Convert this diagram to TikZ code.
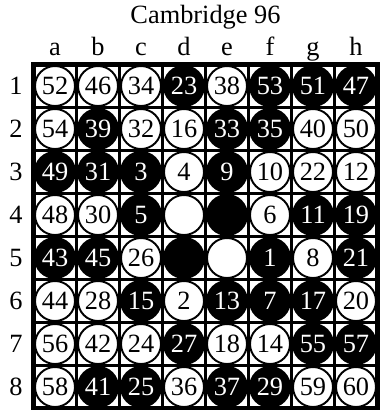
\documentclass[tikz,border=0pt]{standalone}
\usepackage{fontspec}
\setmainfont{Liberation Serif}
\usetikzlibrary{positioning}

\begin{document}
\begin{tikzpicture}[x=0.02cm, y=-0.02cm,
  disk/.style={circle, draw=black, line width=1.1pt, minimum size=0.8cm, inner sep=0pt, font=\fontsize{15}{15}\selectfont},
  wdisk/.style={disk, fill=white, text=black},
  bdisk/.style={disk, fill=black, text=white},
  gridline/.style={line width=1.7pt},
  coord/.style={font=\fontsize{15}{15}\selectfont, inner sep=1pt},
]

% === Canvas ===
\useasboundingbox[fill=white] (0,0) rectangle (380,410);

% === Title and coordinates ===
\node[font=\fontsize{15}{15}\selectfont, inner sep=1pt] (title) at (205.5,17) {Cambridge 96};
\foreach \l [count=\i from 0] in {a,b,c,d,e,f,g,h}
  \node[coord, anchor=base] (col-\l) at (55+43*\i,55) {\l};
\foreach \r in {1,...,8}
  \node[coord] (row-\r) at (16,86+43*\r-43) {\r};

% === Board ===
\foreach \k in {1,...,7} {
  \draw[gridline] (33.5+43*\k,64.5) -- (33.5+43*\k,408.5);
  \draw[gridline] (33.5,64.5+43*\k) -- (377.5,64.5+43*\k);
}
\draw[line width=2.6pt] (33.5,64.5) rectangle (377.5,408.5);

% === Discs: number/colour, row by row ===
\foreach \line [count=\r] in {
  {52/w,46/w,34/w,23/b,38/w,53/b,51/b,47/b},
  {54/w,39/b,32/w,16/w,33/b,35/b,40/w,50/w},
  {49/b,31/b,3/b,4/w,9/b,10/w,22/w,12/w},
  {48/w,30/w,5/b,/w,/b,6/w,11/b,19/b},
  {43/b,45/b,26/w,/b,/w,1/b,8/w,21/b},
  {44/w,28/w,15/b,2/w,13/b,7/b,17/b,20/w},
  {56/w,42/w,24/w,27/b,18/w,14/w,55/b,57/b},
  {58/w,41/b,25/b,36/w,37/b,29/b,59/w,60/w}}
  \foreach \n/\c [count=\col] in \line
    \node[\c disk] (sq-\r-\col) at (55+43*\col-43,86+43*\r-43) {\n};

\end{tikzpicture}
\end{document}
